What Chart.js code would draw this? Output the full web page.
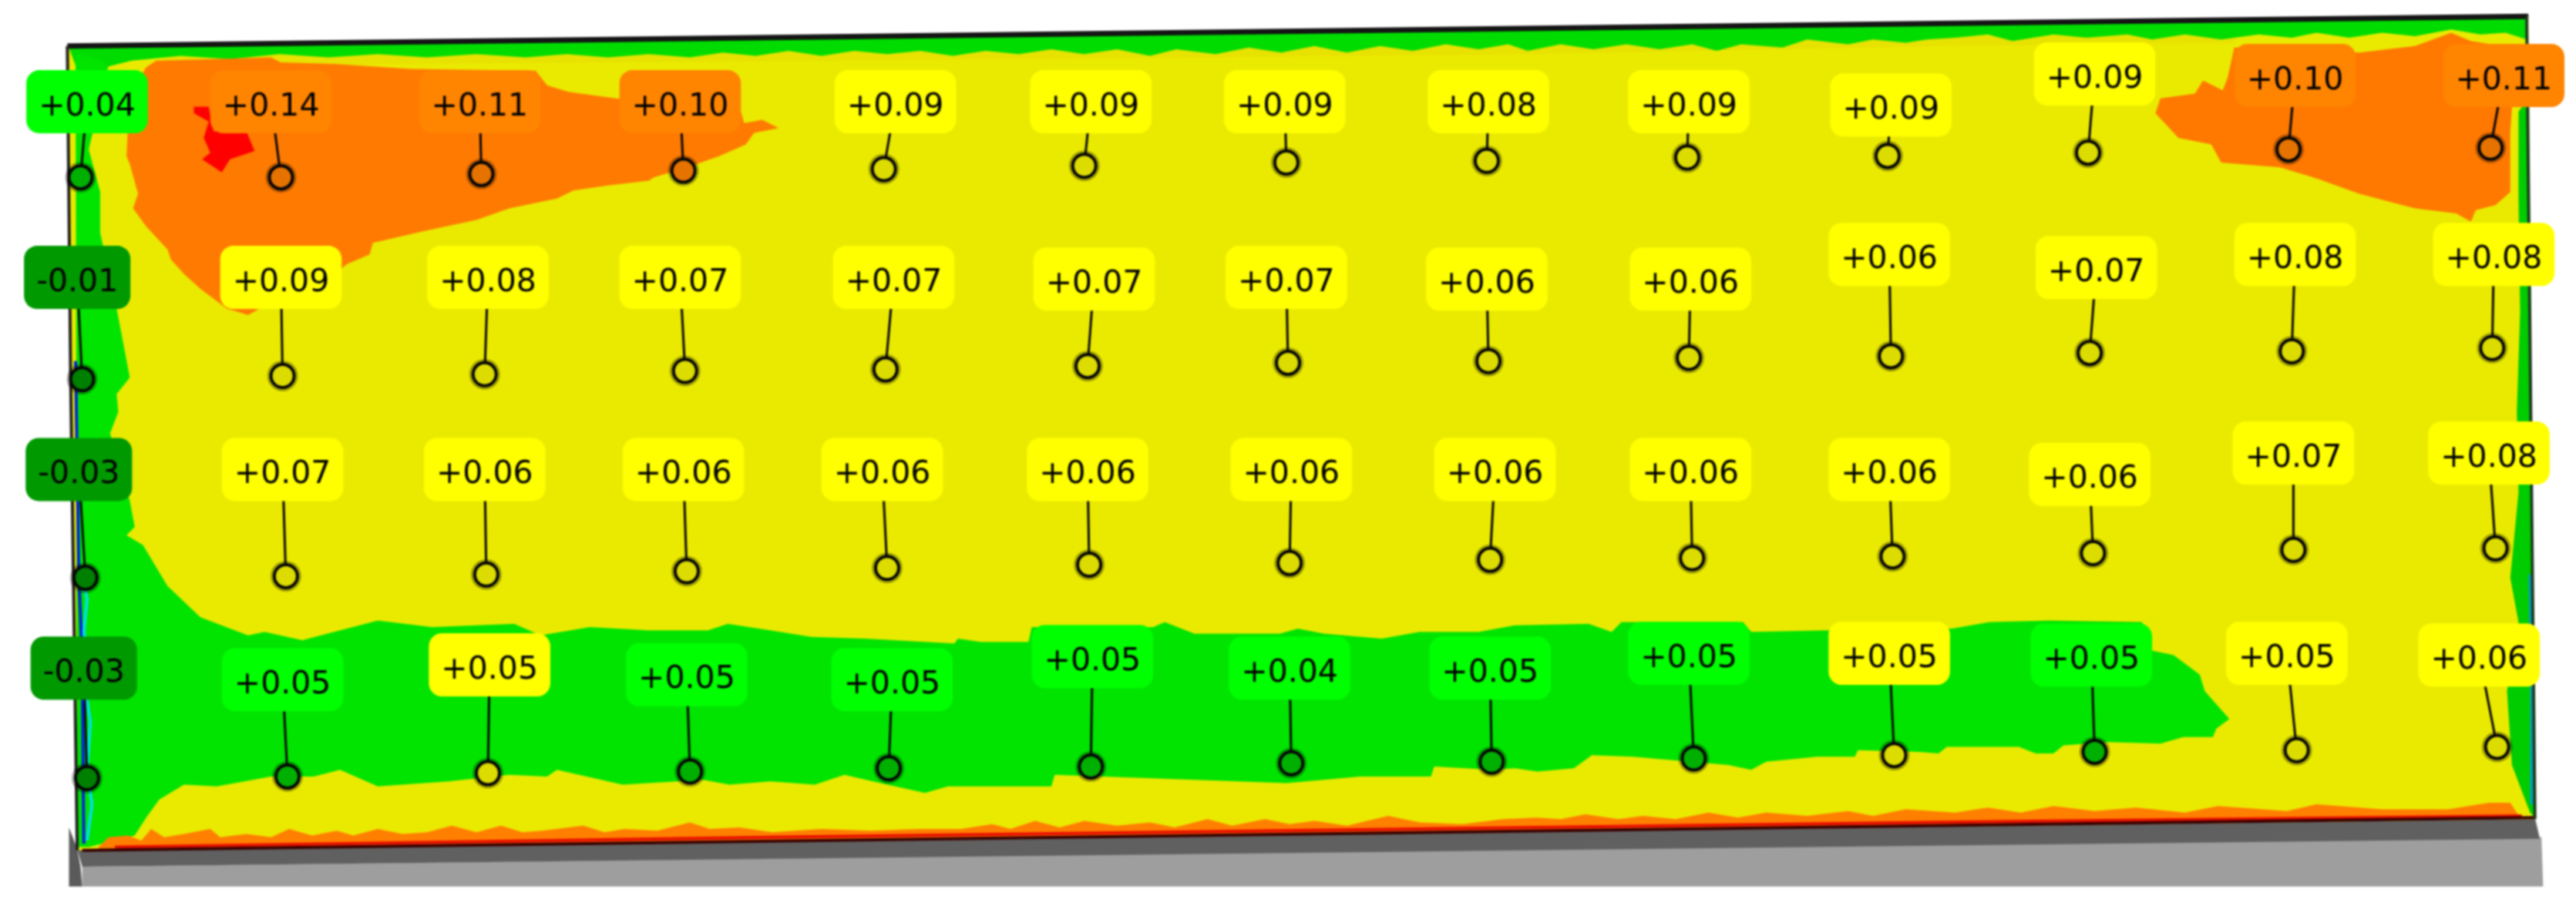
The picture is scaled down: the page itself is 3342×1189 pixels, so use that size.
<!DOCTYPE html>
<html>
<head>
<meta charset="utf-8">
<title>Deviation map</title>
<script src="https://cdn.jsdelivr.net/npm/chart.js@4"></script>
<style>
  html, body { margin: 0; padding: 0; background: #fff; }
  #wrap { width: 3342px; height: 1189px; }
  #map { filter: blur(1px); }
</style>
</head>
<body>
<div id="wrap"><canvas id="map"></canvas></div>
<script>
// measured deviations, one row per line of gauges
const values = [
  ['+0.04','+0.14','+0.11','+0.10','+0.09','+0.09','+0.09','+0.08','+0.09','+0.09','+0.09','+0.10','+0.11'],
  ['-0.01','+0.09','+0.08','+0.07','+0.07','+0.07','+0.07','+0.06','+0.06','+0.06','+0.07','+0.08','+0.08'],
  ['-0.03','+0.07','+0.06','+0.06','+0.06','+0.06','+0.06','+0.06','+0.06','+0.06','+0.06','+0.07','+0.08'],
  ['-0.03','+0.05','+0.05','+0.05','+0.05','+0.05','+0.04','+0.05','+0.05','+0.05','+0.05','+0.05','+0.06']
];
// colour class of each gauge: 0 yellow, 1 green, 2 dark green, 3 orange
const bands = [
  [1,3,3,3,0,0,0,0,0,0,0,3,3],
  [2,0,0,0,0,0,0,0,0,0,0,0,0],
  [2,0,0,0,0,0,0,0,0,0,0,0,0],
  [2,1,0,1,1,1,1,1,1,0,1,0,0]
];
// gauge locations
const gaugeX = [
  [49,171,293,416,538,660,783,905,1027,1149,1271,1393,1516],
  [50,172,295,417,539,662,784,906,1028,1151,1272,1395,1517],
  [52,174,296,418,540,663,785,907,1030,1152,1274,1396,1519],
  [53,175,297,420,541,664,786,908,1031,1153,1275,1398,1520]
];
const gaugeY = [
  [108,108,106,104,103,101,99,98,96,95,93,91,90],
  [231,229,228,226,225,223,221,220,218,217,215,214,212],
  [352,351,350,348,346,344,343,341,340,339,337,335,334],
  [474,473,471,470,468,467,465,464,462,460,458,457,455]
];
// label locations
const labelX = [
  [53,165,292,414,545,664,782,906,1028,1151,1275,1397,1524],
  [47,171,297,414,544,666,783,905,1029,1150,1276,1397,1518],
  [48,172,295,416,537,662,786,910,1029,1150,1272,1396,1515],
  [51,172,298,418,543,665,785,907,1028,1150,1273,1392,1509]
];
const labelY = [
  [62,62,62,62,62,62,62,62,62,64,45,46,46],
  [169,169,169,169,169,170,169,170,170,155,163,155,155],
  [286,286,286,286,286,286,286,286,286,286,289,276,276],
  [407,414,405,411,414,400,407,407,398,398,399,398,399]
];

// contour regions
const panel = [[41,28],[1539,10],[1543,499],[47,518]];
const darkBand = [[47,517],[1543,498],[1546,511],[50,528]];
const lightBand = [[50,528],[1547,510],[1548,540],[50,540]];
const sideBand = [[42,504],[47,517],[49,528],[50,540],[42,540]];
const orangeLeft = [[95,37],[130,36],[165,35],[171,38],[204,39],[250,42],[326,43],[333,52],[346,56],[375,60],[451,68],[453,75],[464,73],[474,78],[459,81],[454,88],[438,95],[421,101],[398,108],[395,110],[370,113],[349,116],[339,121],[310,127],[290,134],[257,141],[227,148],[225,155],[211,161],[198,172],[158,188],[151,192],[138,188],[122,176],[112,167],[104,158],[102,152],[89,138],[81,127],[84,118],[79,100],[77,95],[78,75],[81,54],[89,41]];
const orangeRight = [[1492,20],[1504,25],[1529,29],[1529,66],[1528,81],[1528,117],[1519,125],[1507,128],[1504,135],[1495,130],[1470,127],[1436,118],[1411,109],[1388,102],[1352,99],[1346,88],[1326,84],[1312,69],[1315,60],[1336,57],[1341,49],[1353,55],[1356,47],[1360,29],[1436,32],[1470,28]];
const redSpot = [[118,65],[127,65],[130,80],[150,80],[155,92],[140,97],[135,105],[123,97],[128,93],[124,84],[127,74],[118,69]];
const greenBand = [[46,33],[60,36],[66,40],[54,91],[61,117],[61,142],[71,188],[79,230],[71,240],[72,251],[67,264],[79,305],[82,321],[77,326],[87,332],[102,357],[122,376],[151,387],[161,385],[184,390],[207,384],[230,378],[263,382],[313,380],[329,387],[359,382],[395,384],[431,384],[443,380],[469,384],[494,388],[527,389],[581,392],[583,389],[597,391],[626,391],[628,382],[702,382],[709,379],[727,386],[779,386],[790,383],[806,386],[841,389],[864,385],[900,385],[922,381],[967,380],[981,385],[987,379],[1061,379],[1066,385],[1111,384],[1188,383],[1211,379],[1247,378],[1304,379],[1308,396],[1323,399],[1339,411],[1342,421],[1357,438],[1349,444],[1347,449],[1329,449],[1315,453],[1284,452],[1256,454],[1250,459],[1239,459],[1229,455],[1185,455],[1180,459],[1168,458],[1131,457],[1129,461],[1106,461],[1075,464],[1066,469],[1052,466],[994,461],[969,460],[958,468],[936,470],[922,468],[909,469],[873,467],[871,473],[828,473],[783,477],[698,474],[642,472],[640,479],[577,479],[563,483],[536,477],[514,472],[496,478],[469,476],[444,478],[428,475],[379,478],[339,469],[333,473],[310,472],[273,476],[230,479],[207,469],[191,473],[165,473],[132,479],[112,478],[97,487],[89,498],[82,509],[54,516],[47,516]];
const greenTop = [[42,29],[100,28],[300,25],[600,21],[900,17],[1200,14],[1538,11],[1538,24],[1525,20],[1510,21],[1492,18],[1470,22],[1450,20],[1430,23],[1410,20],[1395,23],[1375,21],[1352,24],[1330,21],[1310,24],[1295,21],[1270,23],[1250,21],[1225,25],[1210,21],[1190,23],[1173,24],[1160,26],[1140,24],[1125,27],[1100,24],[1085,29],[1060,27],[1045,31],[1030,27],[1010,30],[990,27],[970,30],[950,27],[930,31],[918,27],[900,30],[880,27],[860,31],[840,28],[820,32],[800,28],[780,32],[760,29],[740,33],[716,30],[700,34],[680,30],[660,33],[640,30],[620,33],[600,31],[580,34],[560,31],[540,33],[520,31],[500,34],[480,31],[460,34],[440,32],[420,35],[395,33],[370,35],[345,33],[320,35],[290,33],[260,35],[230,33],[200,35],[170,33],[140,36],[110,34],[80,37],[60,42],[46,40]];
const goldFringe = [[100,37],[469,34],[918,30],[1173,25],[1360,23]];
const greenRight = [[1533,68],[1539,60],[1543,498],[1540,495],[1529,466],[1526,421],[1533,379],[1528,352],[1533,300],[1532,250],[1534,190],[1533,120]];
const orangeBottom = [[60,516],[66,510],[78,509],[86,512],[92,505],[100,510],[112,508],[128,505],[134,510],[150,508],[165,510],[176,505],[190,509],[205,506],[215,509],[230,505],[245,508],[260,507],[275,503],[290,507],[305,503],[318,507],[330,506],[355,503],[368,507],[380,505],[400,506],[420,501],[432,505],[450,504],[470,507],[500,505],[530,506],[560,505],[585,505],[604,502],[615,505],[630,500],[645,504],[660,500],[680,503],[700,501],[715,504],[735,499],[750,503],[770,499],[785,502],[800,500],[820,503],[845,497],[864,501],[890,502],[915,499],[935,498],[950,499],[965,496],[985,499],[1000,497],[1020,499],[1040,495],[1058,498],[1075,495],[1100,497],[1125,494],[1140,497],[1160,493],[1190,495],[1210,492],[1230,495],[1250,491],[1275,494],[1300,492],[1330,495],[1350,491],[1392,494],[1410,490],[1450,493],[1490,493],[1515,489],[1528,489],[1534,498],[60,518]];
const redLine = [[70,516],[469,510],[1173,501],[1535,497]];
const bottomEdge = [[50,518],[1543,498]];
const topEdge = [[41,28],[1539,10]];
const leftEdge = [[41,28],[43,230],[47,518]];
const rightEdge = [[1538,10],[1543,499]];
const blueEdge = [[46,220],[48,350],[50,400],[51,514]];
const cyanEdge = [[50,350],[53,365],[51,385],[54,400],[52,420],[55,440],[53,470],[56,490],[53,512]];
const cyanRight = [[1540,350],[1541,420],[1541,490]];

const bandFill = ['#ffff00','#00ff00','#009900','#ff8400'];
const gaugeFill = ['#dcdc00','#00b000','#008000','#e67300'];

function toPts(list) {
  return list.map(p => ({x: p[0], y: p[1]}));
}
function region(list, color) {
  return {data: toPts(list), showLine: true, pointRadius: 0, borderWidth: 0, fill: 'shape', backgroundColor: color, tension: 0};
}
function stroke(list, color, width) {
  return {data: toPts(list), showLine: true, pointRadius: 0, borderColor: color, borderWidth: width, fill: false, tension: 0};
}

const leaders = [];
const gauges = [];
const gaugeColors = [];
values.forEach((row, r) => {
  row.forEach((v, c) => {
    leaders.push({x: gaugeX[r][c], y: gaugeY[r][c]});
    leaders.push({x: labelX[r][c], y: labelY[r][c]});
    leaders.push({x: NaN, y: NaN});
    gauges.push({x: gaugeX[r][c], y: gaugeY[r][c]});
    gaugeColors.push(gaugeFill[bands[r][c]]);
  });
});

// listed bottom layer first, reversed below because chart.js paints index 0 last
const layers = [
  region(lightBand, '#9e9e9e'),
  region(sideBand, '#5a5a5a'),
  region(darkBand, '#606060'),
  region(panel, '#eaea00'),
  stroke(goldFringe, '#e8e200', 14),
  region(greenTop, '#00dc00'),
  region(greenRight, '#00cc00'),
  region(greenBand, '#00e400'),
  region(orangeBottom, '#ff7f00'),
  region(orangeLeft, '#ff7a00'),
  region(orangeRight, '#ff7800'),
  region(redSpot, '#ff0000'),
  stroke(redLine, '#e81000', 4),
  stroke(blueEdge, '#0020e0', 4),
  stroke(cyanEdge, '#00e0e8', 4),
  stroke(cyanRight, '#00a0c0', 4),
  stroke(bottomEdge, '#3a0000', 4),
  stroke(topEdge, '#141414', 7),
  stroke(leftEdge, '#222222', 4),
  stroke(rightEdge, '#1c3a1c', 4),
  {data: leaders, showLine: true, spanGaps: false, pointRadius: 0, borderColor: '#050505', borderWidth: 3, fill: false, tension: 0},
  {data: gauges, showLine: false, pointRadius: 20, pointBorderWidth: 0, pointBackgroundColor: 'rgba(0,0,0,0.3)'},
  {data: gauges, showLine: false, pointRadius: 15, pointBorderWidth: 4, pointBorderColor: '#050505', pointBackgroundColor: gaugeColors}
];

const labelPlugin = {
  id: 'gaugeLabels',
  afterDatasetsDraw(chart) {
    const ctx = chart.ctx;
    const xs = chart.scales.x, ys = chart.scales.y;
    ctx.save();
    ctx.font = '41px "DejaVu Sans"';
    ctx.textAlign = 'center';
    ctx.textBaseline = 'middle';
    values.forEach((row, r) => {
      row.forEach((v, c) => {
        const px = xs.getPixelForValue(labelX[r][c]);
        const py = ys.getPixelForValue(labelY[r][c]);
        const w = ctx.measureText(v).width + 32;
        const h = 82;
        ctx.fillStyle = bandFill[bands[r][c]];
        ctx.beginPath();
        ctx.roundRect(px - w / 2, py - h / 2, w, h, 17);
        ctx.fill();
        ctx.fillStyle = '#000';
        ctx.fillText(v, px, py + 7);
      });
    });
    ctx.restore();
  }
};

new Chart(document.getElementById('map').getContext('2d'), {
  type: 'scatter',
  data: {datasets: layers.reverse()},
  plugins: [labelPlugin],
  options: {
    responsive: true,
    maintainAspectRatio: false,
    animation: false,
    events: [],
    layout: {padding: 0, autoPadding: false},
    plugins: {legend: {display: false}, tooltip: {enabled: false}},
    scales: {
      x: {type: 'linear', display: false, min: 0, max: 1568},
      y: {type: 'linear', display: false, min: 0, max: 558, reverse: true}
    }
  }
});
</script>
</body>
</html>
